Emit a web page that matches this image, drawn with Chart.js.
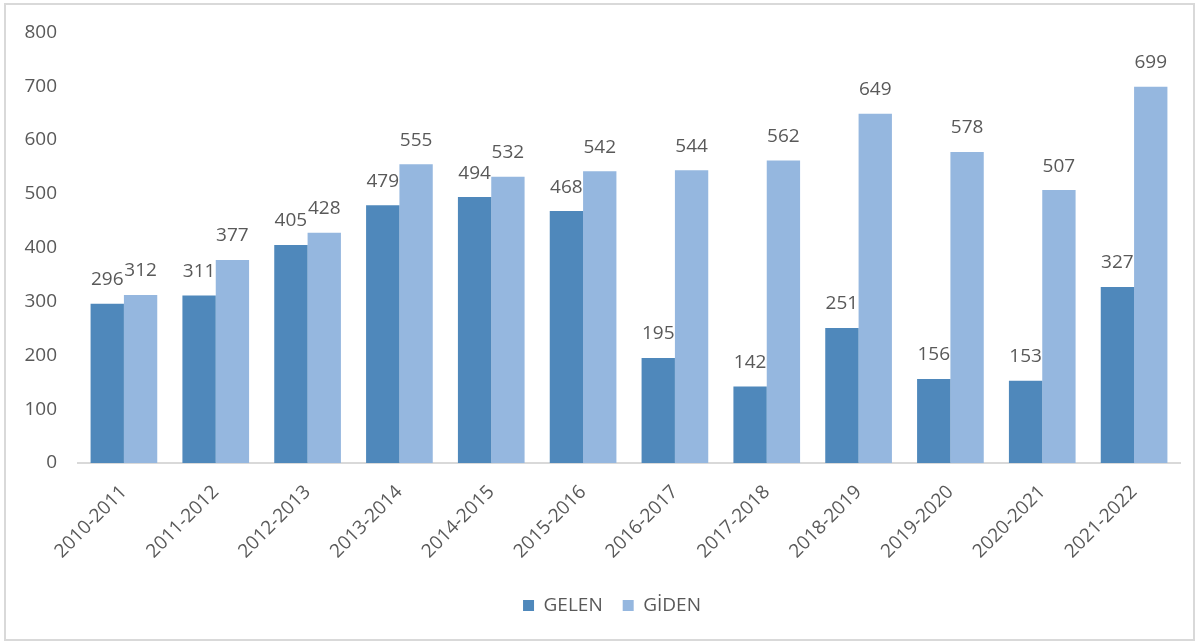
<!DOCTYPE html>
<html>
<head>
<meta charset="utf-8">
<script src="https://cdn.jsdelivr.net/npm/chart.js@4/dist/chart.umd.min.js"></script>
<style>
  html, body { margin: 0; padding: 0; background: #ffffff; }
  #wrap { position: absolute; left: 0; top: 0; width: 1197px; height: 644px; }
</style>
</head>
<body>
<div id="wrap"><canvas id="c" width="1197" height="644"></canvas></div>
<script>
const categories = ["2010-2011","2011-2012","2012-2013","2013-2014","2014-2015","2015-2016","2016-2017","2017-2018","2018-2019","2019-2020","2020-2021","2021-2022"];
const gelen = [296, 311, 405, 479, 494, 468, 195, 142, 251, 156, 153, 327];
const giden = [312, 377, 428, 555, 532, 542, 544, 562, 649, 578, 507, 699];
const yTicks = [0, 100, 200, 300, 400, 500, 600, 700, 800];
const seriesNames = ["GELEN", "GİDEN"];

const FONT = "'Open Sans', 'Noto Sans', sans-serif";
const TXT = "#595959";

const borderPlugin = {
  id: 'frame',
  beforeDraw(chart) {
    const ctx = chart.ctx;
    ctx.save();
    ctx.fillStyle = '#ffffff';
    ctx.fillRect(0, 0, chart.width, chart.height);
    ctx.strokeStyle = '#d9d9d9';
    ctx.lineWidth = 2;
    ctx.strokeRect(5, 4, 1189, 636);
    ctx.restore();
  }
};

const legendShift = {
  id: 'legendShift',
  afterLayout(chart) {
    const l = chart.legend;
    if (l) { l.left += 22; l.right += 22; }
  }
};

const labelPlugin = {
  id: 'valueLabels',
  afterDatasetsDraw(chart) {
    const ctx = chart.ctx;
    ctx.save();
    ctx.font = "19px " + FONT;
    ctx.fillStyle = TXT;
    ctx.textAlign = 'center';
    ctx.textBaseline = 'middle';
    chart.data.datasets.forEach((ds, i) => {
      const meta = chart.getDatasetMeta(i);
      meta.data.forEach((bar, j) => {
        ctx.fillText(String(ds.data[j]), bar.x, bar.y - 24);
      });
    });
    ctx.restore();
  }
};

new Chart(document.getElementById('c'), {
  type: 'bar',
  data: {
    labels: categories,
    datasets: [
      { label: seriesNames[0], data: gelen, backgroundColor: '#4f88bb', borderWidth: 0 },
      { label: seriesNames[1], data: giden, backgroundColor: '#95b7df', borderWidth: 0 }
    ]
  },
  options: {
    responsive: false,
    animation: false,
    devicePixelRatio: 1,
    layout: { padding: { top: 32, right: 17, left: 0, bottom: 19 } },
    datasets: { bar: { barPercentage: 1.0, categoryPercentage: 0.726 } },
    plugins: {
      legend: {
        position: 'bottom',
        labels: {
          font: { family: FONT, size: 19 },
          color: TXT,
          boxWidth: 11,
          boxHeight: 11,
          padding: 20
        }
      },
      tooltip: { enabled: false }
    },
    scales: {
      x: {
        grid: { display: false, drawTicks: false },
        border: { display: true, color: '#d9d9d9', width: 2 },
        ticks: {
          font: { family: FONT, size: 19 },
          color: TXT,
          maxRotation: 45,
          minRotation: 45,
          padding: 18
        },
        afterFit(scale) { scale.height = 113; }
      },
      y: {
        min: 0,
        max: 800,
        afterBuildTicks(scale) { scale.ticks = yTicks.map(v => ({ value: v })); },
        grid: { display: false, drawTicks: false },
        border: { display: false },
        ticks: {
          font: { family: FONT, size: 19 },
          color: TXT,
          padding: 21
        },
        afterFit(scale) { scale.width = 78; }
      }
    }
  },
  plugins: [borderPlugin, legendShift, labelPlugin]
});
</script>
</body>
</html>
